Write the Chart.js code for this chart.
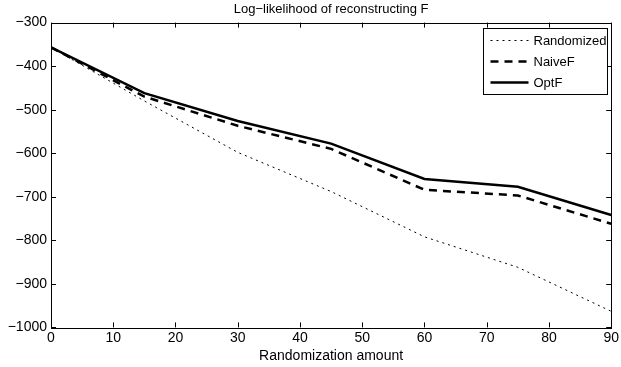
<!DOCTYPE html>
<html>
<head>
<meta charset="utf-8">
<script src="https://cdn.jsdelivr.net/npm/chart.js@4"></script>
<style>
html, body { margin: 0; padding: 0; background: #fff; }
</style>
</head>
<body>
<canvas id="myChart" width="621" height="367"></canvas>
<script>
// Data
var amounts = [0, 15, 30, 45, 60, 75, 90];
var randomized = [-357, -480, -598, -688, -792, -862, -963];
var naiveF = [-357, -470, -537, -590, -684, -697, -762];
var optF = [-357, -462, -526, -578, -659, -677, -742];
var xTicks = [0, 10, 20, 30, 40, 50, 60, 70, 80, 90];
var yTicks = [-1000, -900, -800, -700, -600, -500, -400, -300];

var fontFamily = '"Liberation Sans", Arial, Helvetica, sans-serif';

function minus(v) {
    return v < 0 ? '\u2212' + Math.abs(v) : String(v);
}

// MATLAB style box with inward ticks on all four sides, plus legend
var boxPlugin = {
    id: 'box',
    afterDatasetsDraw: function(chart) {
        var c = chart.ctx;
        var a = chart.chartArea;
        var xs = chart.scales.x, ys = chart.scales.y;
        c.save();
        c.strokeStyle = '#000';
        c.lineWidth = 1;
        c.beginPath();
        xTicks.forEach(function(t) {
            var px = Math.round(xs.getPixelForValue(t)) + 0.5;
            c.moveTo(px, a.bottom); c.lineTo(px, a.bottom - 5);
            c.moveTo(px, a.top); c.lineTo(px, a.top + 5);
        });
        yTicks.forEach(function(t) {
            var py = Math.round(ys.getPixelForValue(t)) + 0.5;
            c.moveTo(a.left, py); c.lineTo(a.left + 5, py);
            c.moveTo(a.right, py); c.lineTo(a.right - 5, py);
        });
        c.stroke();
        c.strokeRect(Math.round(a.left) + 0.5, Math.round(a.top) + 0.5,
                     Math.round(a.right - a.left), Math.round(a.bottom - a.top));

        // legend
        var w = 124, h = 66;
        var lx = Math.round(a.right) - w - 4 + 0.5, ly = Math.round(a.top) + 5 + 0.5;
        c.fillStyle = '#fff';
        c.fillRect(lx, ly, w, h);
        c.strokeRect(lx, ly, w, h);
        c.font = '13px ' + fontFamily;
        c.textBaseline = 'middle';
        c.fillStyle = '#000';
        chart.data.datasets.forEach(function(ds, i) {
            var y = ly + 12 + i * 21;
            c.beginPath();
            c.lineWidth = ds.borderWidth;
            c.setLineDash(ds.borderDash || []);
            c.moveTo(lx + 7, y); c.lineTo(lx + 45, y);
            c.stroke();
            c.setLineDash([]);
            c.fillText(ds.label, lx + 50, y + 1);
        });
        c.restore();
    }
};

var ctx = document.getElementById('myChart').getContext('2d');
var myChart = new Chart(ctx, {
    type: 'line',
    data: {
        labels: amounts,
        datasets: [{
            label: 'Randomized',
            data: randomized,
            borderColor: '#000',
            borderWidth: 1,
            borderDash: [2, 4],
            pointRadius: 0,
            tension: 0
        }, {
            label: 'NaiveF',
            data: naiveF,
            borderColor: '#000',
            borderWidth: 2.5,
            borderDash: [8, 6],
            pointRadius: 0,
            tension: 0
        }, {
            label: 'OptF',
            data: optF,
            borderColor: '#000',
            borderWidth: 2.5,
            pointRadius: 0,
            tension: 0
        }]
    },
    options: {
        responsive: false,
        animation: false,
        devicePixelRatio: 1,
        layout: { padding: { left: 0, right: 7, top: 0, bottom: 2 } },
        plugins: {
            legend: { display: false },
            tooltip: { enabled: false },
            title: {
                display: true,
                fullSize: false,
                text: 'Log\u2212likelihood of reconstructing F',
                color: '#000',
                font: { family: fontFamily, size: 13, weight: 'normal' },
                padding: { top: 2, bottom: 5 }
            }
        },
        scales: {
            x: {
                type: 'linear',
                min: 0,
                max: 90,
                afterBuildTicks: function(s) { s.ticks = xTicks.map(function(v) { return { value: v }; }); },
                ticks: {
                    color: '#000',
                    font: { family: fontFamily, size: 14 },
                    padding: 2,
                    maxRotation: 0,
                    callback: function(v) { return minus(v); }
                },
                grid: { display: false, drawTicks: false },
                border: { display: false },
                title: {
                    display: true,
                    text: 'Randomization amount',
                    color: '#000',
                    font: { family: fontFamily, size: 14 },
                    padding: { top: 0, bottom: 0 }
                }
            },
            y: {
                min: -1000,
                max: -300,
                afterBuildTicks: function(s) { s.ticks = yTicks.map(function(v) { return { value: v }; }); },
                afterFit: function(s) { s.width = 51; },
                ticks: {
                    color: '#000',
                    font: { family: fontFamily, size: 14 },
                    padding: 4,
                    callback: function(v) { return minus(v); }
                },
                grid: { display: false, drawTicks: false },
                border: { display: false }
            }
        }
    },
    plugins: [boxPlugin]
});
</script>
</body>
</html>
